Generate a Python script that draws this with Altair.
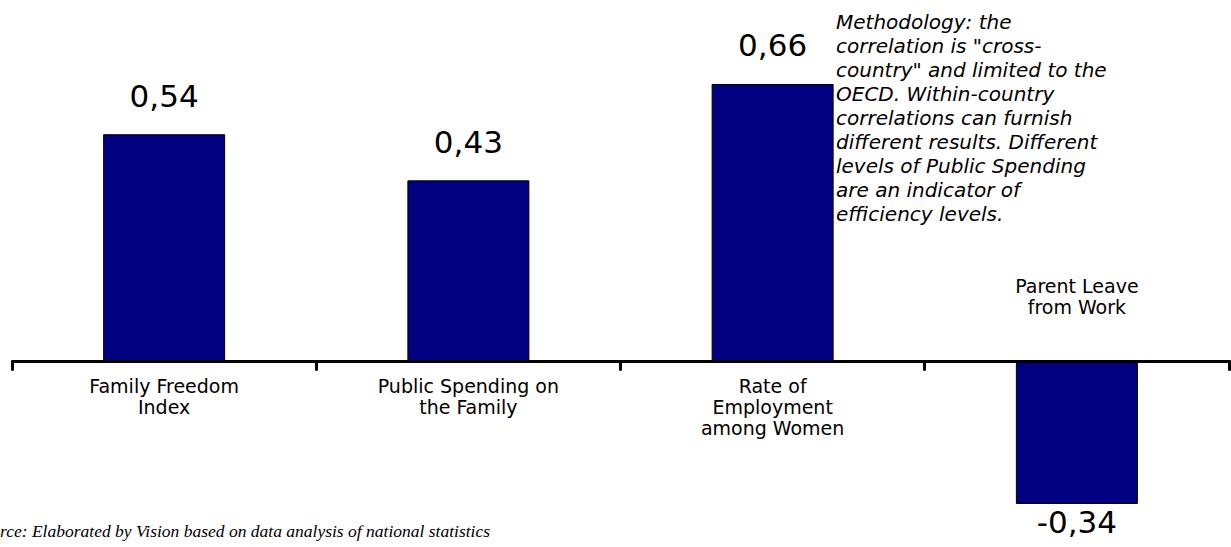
import altair as alt
import pandas as pd

categories = ["Family Freedom Index", "Public Spending on the Family",
              "Rate of Employment among Women", "Parent Leave from Work"]
label_lines = [["Family Freedom", "Index"],
               ["Public Spending on", "the Family"],
               ["Rate of", "Employment", "among Women"],
               ["Parent Leave", "from Work"]]
values = [0.54, 0.43, 0.66, -0.34]
value_labels = ["0,54", "0,43", "0,66", "-0,34"]

note_lines = ["Methodology: the",
              "correlation is \"cross-",
              "country\" and limited to the",
              "OECD. Within-country",
              "correlations can furnish",
              "different results. Different",
              "levels of Public Spending",
              "are an indicator of",
              "efficiency levels."]
source_text = "Source: Elaborated by Vision based on data analysis of national statistics"

df = pd.DataFrame({"cat": categories, "value": values,
                   "vlabel": value_labels, "lines": label_lines})

W, H = 1217, 547
x = alt.X("cat:N", sort=categories,
          scale=alt.Scale(paddingInner=0, paddingOuter=0),
          axis=alt.Axis(labels=False, title=None, bandPosition=1, tickExtra=True,
                        offset=-186, domainWidth=3, domainColor="black",
                        domainCap="round", tickWidth=3, tickSize=8,
                        tickColor="black", tickCap="round", grid=False, zindex=1))
y = alt.Y("value:Q", scale=alt.Scale(domain=[-186 / 419, 361 / 419], nice=False, zero=False),
          axis=None)

base = alt.Chart(df).encode(x=x, y=y)

bars = base.mark_bar(color="#000080", stroke="black", strokeWidth=1, width=121)

pos_vals = base.transform_filter("datum.value >= 0").mark_text(
    font="DejaVu Sans", fontSize=31, baseline="middle", dy=-37, color="black"
).encode(text="vlabel:N")
neg_vals = base.transform_filter("datum.value < 0").mark_text(
    font="DejaVu Sans", fontSize=31, baseline="middle", dy=21, color="black"
).encode(text="vlabel:N")

zero_base = alt.Chart(df).encode(x=x, y=alt.datum(0))
below = zero_base.transform_filter("datum.value >= 0").mark_text(
    font="DejaVu Sans", fontSize=19, baseline="top", dy=17, lineHeight=21, color="black"
).encode(text="lines")
above = zero_base.transform_filter("datum.value < 0").mark_text(
    font="DejaVu Sans", fontSize=19, baseline="bottom", dy=-64, lineHeight=21, color="black"
).encode(text="lines")

note = alt.Chart(pd.DataFrame({"t": [note_lines]})).mark_text(
    font="DejaVu Sans", fontSize=20, fontStyle="italic", align="left", baseline="top",
    lineHeight=24, color="black"
).encode(x=alt.value(824), y=alt.value(13), text="t")

source = alt.Chart(pd.DataFrame({"t": [source_text]})).mark_text(
    font="Liberation Serif", fontSize=17.5, fontStyle="italic", align="right",
    baseline="middle", color="black"
).encode(x=alt.value(478), y=alt.value(532), text="t")

chart = alt.layer(bars, pos_vals, neg_vals, below, above, note, source).properties(
    width=W, height=H,
    background="white",
    autosize=alt.AutoSizeParams(type="none"),
    padding={"left": 12, "right": 2, "top": 0, "bottom": 0},
).configure_view(stroke=None, strokeWidth=0)

chart.save("out.html", embed_options={"renderer": "svg", "actions": False})
